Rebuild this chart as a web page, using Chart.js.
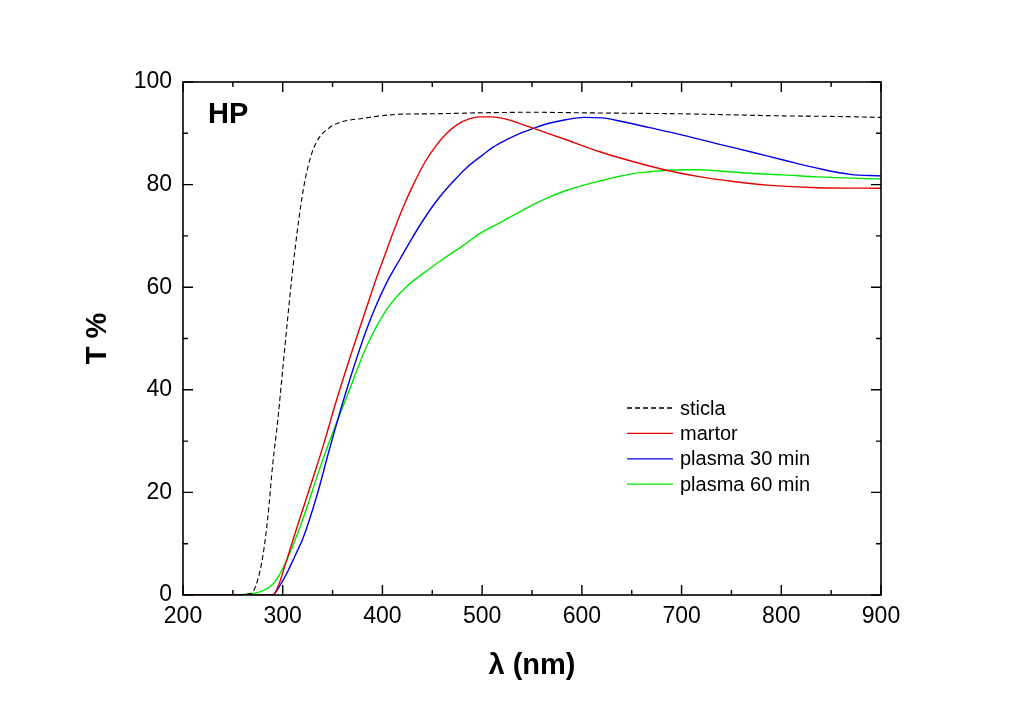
<!DOCTYPE html>
<html>
<head>
<meta charset="utf-8">
<script src="https://cdn.jsdelivr.net/npm/chart.js@4.4.1/dist/chart.umd.min.js"></script>
<style>
  body { margin: 0; background: #fff; }
  canvas { display: block; }
</style>
</head>
<body>
<canvas id="chart" width="1024" height="714"></canvas>
<script>
// wavelength (nm) and transmittance (%)
var sticlaNm = [200, 255, 265, 270, 275, 280, 285, 290, 295, 300, 305, 310, 316, 322, 329, 337, 345, 351, 360, 368, 380, 394, 415, 450, 500, 550, 600, 650, 700, 750, 800, 850, 900];
var sticlaT  = [0, 0, 0.2, 0.6, 3, 7.5, 15, 25.5, 34, 44, 54, 63.4, 73, 80.5, 86, 89.3, 90.8, 91.6, 92.3, 92.6, 92.9, 93.3, 93.7, 93.8, 94, 94.1, 94, 93.9, 93.8, 93.6, 93.4, 93.3, 93.1];

var martorNm = [200, 290, 295, 304, 312, 321, 334, 342, 354, 371, 384, 394, 401, 411, 421, 431, 443, 455, 465, 475, 487, 498, 510, 521, 538, 551, 585, 618, 651, 685, 719, 752, 785, 836, 900];
var martorT  = [0, 0, 1.5, 6.8, 11.8, 17.2, 25, 30, 38, 48.4, 56, 61.8, 65.5, 70.8, 75.7, 80, 84.5, 87.9, 90.1, 91.7, 92.8, 93.2, 93.2, 92.9, 91.9, 91, 88.7, 86.4, 84.5, 82.8, 81.5, 80.6, 79.9, 79.4, 79.3];

var p30Nm = [200, 290, 297, 304, 312, 321, 334, 347, 361, 378, 391, 404, 418, 428, 441, 455, 470, 485, 500, 511, 525, 538, 552, 568, 585, 602, 620, 640, 668, 702, 735, 769, 802, 836, 869, 900];
var p30T  = [0, 0, 1.8, 4.2, 7.5, 11.4, 19.2, 28.5, 38, 48.4, 55.2, 60.8, 65.6, 69, 73.1, 77, 80.4, 83.4, 85.7, 87.3, 88.8, 90, 91, 92, 92.7, 93.1, 93, 92.3, 91.1, 89.6, 88, 86.4, 84.8, 83.2, 82, 81.7];

var p60Nm = [200, 255, 265, 277, 291, 301, 313, 325, 336, 347, 364, 384, 404, 424, 441, 461, 480, 498, 518, 538, 552, 568, 585, 602, 620, 635, 650, 668, 685, 702, 720, 735, 769, 802, 836, 900];
var p60T  = [0, 0, 0.2, 0.6, 2.3, 5.5, 11, 17.5, 24, 30, 38.5, 48.4, 55.6, 60.1, 62.7, 65.5, 68, 70.5, 72.6, 74.7, 76.2, 77.6, 78.9, 79.9, 80.8, 81.5, 82.1, 82.5, 82.8, 82.9, 82.9, 82.7, 82.2, 81.9, 81.5, 81.1];

var seriesNames = ['sticla', 'martor', 'plasma 30 min', 'plasma 60 min'];

function pts(nm, t) {
    return nm.map(function (v, i) { return {x: v, y: t[i]}; });
}

var FONT = '"Liberation Sans", Arial, sans-serif';

// box frame, inward ticks on all four sides, the "HP" tag and the legend
var frameTicks = {
    id: 'frameTicks',
    afterDraw: function (chart) {
        var ctx = chart.ctx, a = chart.chartArea;
        var x = chart.scales.x, y = chart.scales.y;
        ctx.save();
        ctx.strokeStyle = '#000';
        ctx.lineWidth = 1.6;
        ctx.strokeRect(a.left, a.top, a.right - a.left, a.bottom - a.top);

        ctx.lineWidth = 1.4;
        ctx.beginPath();
        x.ticks.forEach(function (t) {
            var px = x.getPixelForValue(t.value);
            var len = t.value % 100 === 0 ? 10 : 5;
            ctx.moveTo(px, a.bottom); ctx.lineTo(px, a.bottom - len);
            ctx.moveTo(px, a.top); ctx.lineTo(px, a.top + len);
        });
        y.ticks.forEach(function (t) {
            var py = y.getPixelForValue(t.value);
            var len = t.value % 20 === 0 ? 10 : 5;
            ctx.moveTo(a.left, py); ctx.lineTo(a.left + len, py);
            ctx.moveTo(a.right, py); ctx.lineTo(a.right - len, py);
        });
        ctx.stroke();

        ctx.fillStyle = '#000';
        ctx.font = 'bold 29px ' + FONT;
        ctx.textBaseline = 'middle';
        ctx.textAlign = 'left';
        ctx.fillText('HP', 208, 115);

        // legend
        ctx.font = '20px ' + FONT;
        chart.data.datasets.forEach(function (ds, i) {
            var ly = 408 + i * 25.4;
            ctx.strokeStyle = ds.borderColor;
            ctx.lineWidth = 1.3;
            ctx.setLineDash(ds.borderDash || []);
            ctx.beginPath();
            ctx.moveTo(627, ly); ctx.lineTo(673, ly);
            ctx.stroke();
            ctx.setLineDash([]);
            ctx.fillText(ds.label, 680, ly + 1);
        });
        ctx.restore();
    }
};

new Chart(document.getElementById('chart'), {
    type: 'line',
    data: {
        datasets: [
            {label: seriesNames[0], data: pts(sticlaNm, sticlaT), borderColor: '#000000', borderDash: [5, 3], borderWidth: 1.1},
            {label: seriesNames[1], data: pts(martorNm, martorT), borderColor: '#e60000', borderWidth: 1.4},
            {label: seriesNames[2], data: pts(p30Nm, p30T), borderColor: '#0000e6', borderWidth: 1.4},
            {label: seriesNames[3], data: pts(p60Nm, p60T), borderColor: '#00e600', borderWidth: 1.4}
        ]
    },
    options: {
        responsive: false,
        animation: false,
        devicePixelRatio: 1,
        layout: {padding: {top: 82, right: 143, left: 0, bottom: 0}},
        elements: {
            point: {radius: 0},
            line: {cubicInterpolationMode: 'monotone', fill: false}
        },
        plugins: {legend: {display: false}, tooltip: {enabled: false}},
        scales: {
            x: {
                type: 'linear',
                min: 200, max: 900,
                grid: {display: false, drawTicks: false},
                border: {display: false},
                ticks: {
                    stepSize: 50,
                    padding: 8,
                    color: '#000',
                    font: {family: FONT, size: 23},
                    maxRotation: 0,
                    autoSkip: false,
                    callback: function (v) { return v % 100 === 0 ? v : ''; }
                },
                title: {
                    display: true,
                    text: 'λ (nm)',
                    color: '#000',
                    font: {family: FONT, size: 29, weight: 'bold'},
                    padding: {top: 0, bottom: 31}
                },
                afterFit: function (s) { s.height = 119; }
            },
            y: {
                min: 0, max: 100,
                grid: {display: false, drawTicks: false},
                border: {display: false},
                ticks: {
                    stepSize: 10,
                    padding: 11,
                    color: '#000',
                    font: {family: FONT, size: 23},
                    autoSkip: false,
                    callback: function (v) { return v % 20 === 0 ? v : ''; }
                },
                title: {
                    display: true,
                    text: 'T %',
                    color: '#000',
                    font: {family: FONT, size: 29, weight: 'bold'},
                    padding: {top: 81, bottom: 0}
                },
                afterFit: function (s) { s.width = 183; }
            }
        }
    },
    plugins: [frameTicks]
});
</script>
</body>
</html>
